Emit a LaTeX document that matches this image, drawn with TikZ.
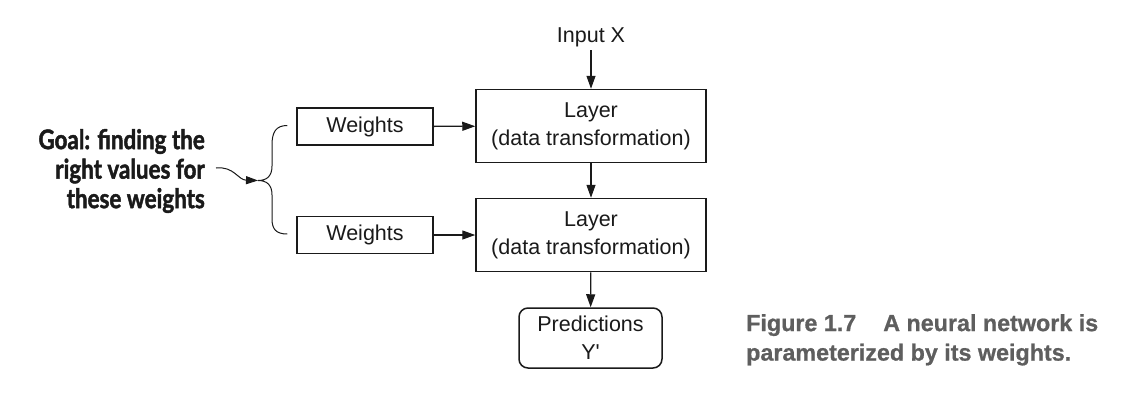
\documentclass[tikz,border=0pt]{standalone}
\usepackage{fontspec}
\setmainfont{Liberation Sans}
\newfontfamily\goalfont[FakeStretch=0.83,BoldFeatures={FakeBold=1.6}]{Lato}
\newfontfamily\capfont[BoldFeatures={FakeBold=0.8}]{Liberation Sans}
\usetikzlibrary{arrows.meta,calc}
\definecolor{ink}{HTML}{1A1A1A}
\definecolor{capgray}{HTML}{5E5E5E}
\newcommand\boxfont{\fontsize{21.5}{28}\selectfont}
\begin{document}
\begin{tikzpicture}[x=1pt,y=-1pt,
  box/.style={draw=ink, line width=1.5pt, inner sep=0pt, align=center,
              font=\boxfont, text=ink},
  layerbox/.style={box, minimum width=230pt, minimum height=73pt},
  weightbox/.style={box, minimum width=136pt, minimum height=37pt},
  predbox/.style={box, rounded corners=9pt, minimum width=143pt, minimum height=60pt},
  plain/.style={font=\boxfont, text=ink},
  flow/.style={draw=ink, line width=1.3pt, -{Triangle[length=13pt,width=9pt]}},
  thinlink/.style={draw=ink, line width=1pt},
  pointer/.style={thinlink, -{Triangle[length=12pt,width=8pt]}},
  goaltext/.style={font=\goalfont\bfseries\fontsize{27}{29.5}\selectfont,
                   align=right, inner sep=0pt, text=ink},
  captext/.style={font=\capfont\bfseries\fontsize{23.3}{29.5}\selectfont,
                  align=left, inner sep=0pt, text=capgray}]
\fill[white] (0,0) rectangle (1130,408);
\useasboundingbox (0,0) rectangle (1130,408);

% main column
\node[plain] (input) at (591,37) {Input X};
\node[layerbox] (layer1) at (591,126) {Layer\\(data transformation)};
\node[layerbox] (layer2) at (591,235) {Layer\\(data transformation)};
\node[predbox] (pred) at (590.5,338) {Predictions\\Y\textquotesingle};

% weight boxes
\node[weightbox] (w1) at (365,126.5) {Weights};
\node[weightbox] (w2) at (365,235) {Weights};

\draw[flow] (input) -- (layer1);
\draw[flow] (layer1) -- (layer2);
\draw[flow] (layer2) -- (pred);
\draw[flow] (w1) -- (layer1);
\draw[flow] (w2) -- (layer2);

% brace grouping the two weight boxes
\coordinate (btop) at ($(w1.west)+(-9,-1)$);
\coordinate (bbot) at ($(w2.west)+(-9,-1)$);
\coordinate (bracetip) at (258,180.5);
\draw[thinlink] (btop) .. controls (276,125.5) and (272,132) .. (272,145)
  -- (272,166) .. controls (272,176) and (267,180.5) .. (bracetip)
  .. controls (267,180.5) and (272,185) .. (272,195)
  -- (272,219) .. controls (272,229) and (276,234) .. (bbot);

% annotation
\node[goaltext, anchor=east] (goal) at (205,171)
  {Goal: finding the\\right values for\\these weights};
\draw[pointer] ($(goal.east)+(11,-3)$) .. controls (234,166) and (238,180) .. (bracetip);

% caption
\node[captext, anchor=north west] (cap) at (746,314)
  {Figure 1.7\hspace{27pt}A neural network is\\parameterized by its weights.};
\end{tikzpicture}
\end{document}
